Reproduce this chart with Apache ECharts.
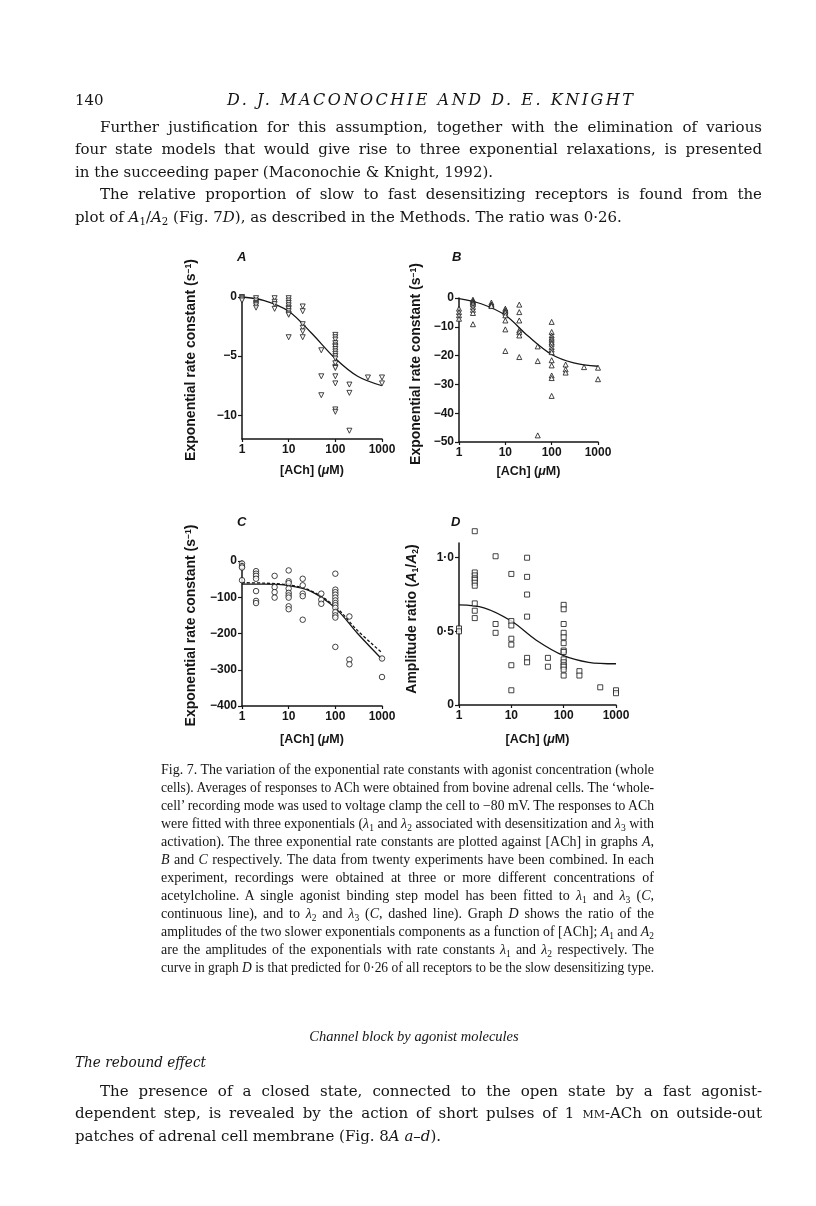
<!DOCTYPE html>
<html>
<head>
    <meta charset="utf-8">
    <title>Fig. 7 - Maconochie &amp; Knight</title>
    <script src="https://cdn.jsdelivr.net/npm/echarts@6.0.0/dist/echarts.min.js"></script>
    <style>
        body { margin: 0; background: #fff; }
        #page { position: relative; width: 816px; height: 1206px; overflow: hidden; background: #fff; }
        #chart { position: absolute; left: 0; top: 0; width: 816px; height: 1206px; }
        .ln { position: absolute; white-space: nowrap; color: #151515; }
        .ln .t { display: inline-block; transform-origin: 0 50%; }
        .body { font-family: 'DejaVu Serif', 'Liberation Serif', serif; font-size: 15px; line-height: 20px; }
        .cap { font-family: 'Liberation Serif', 'DejaVu Serif', serif; font-size: 14px; line-height: 18px; }
        .head { font-family: 'Liberation Serif', 'DejaVu Serif', serif; font-size: 14.5px; line-height: 20px; text-align: center; }
        sub { font-size: 0.68em; vertical-align: -0.3em; line-height: 0; }
        .sc { font-variant: small-caps; }
    </style>
</head>
<body>
<div id="page">
    <div id="chart"></div>

    <!-- running head -->
    <div class="ln body" style="left:75px;top:90px" data-w="30"><span class="t">140</span></div>
    <div class="ln body" style="left:227px;top:90px;font-size:16px" data-w="406" data-m="s"><span class="t"><i>D. J. MACONOCHIE AND D. E. KNIGHT</i></span></div>

    <!-- text above the figure -->
    <div class="ln body" style="left:100px;top:117px" data-w="662" data-m="j"><span class="t">Further justification for this assumption, together with the elimination of various</span></div>
    <div class="ln body" style="left:75px;top:139px" data-w="687" data-m="j"><span class="t">four state models that would give rise to three exponential relaxations, is presented</span></div>
    <div class="ln body" style="left:75px;top:162px" data-w="687"><span class="t">in the succeeding paper (Maconochie &amp; Knight, 1992).</span></div>
    <div class="ln body" style="left:100px;top:184px" data-w="662" data-m="j"><span class="t">The relative proportion of slow to fast desensitizing receptors is found from the</span></div>
    <div class="ln body" style="left:75px;top:207px" data-w="687"><span class="t">plot of <i>A</i><sub>1</sub>/<i>A</i><sub>2</sub> (Fig. 7<i>D</i>), as described in the Methods. The ratio was 0·26.</span></div>

    <!-- caption -->
    <div class="ln cap" style="left:161px;top:761px" data-w="493" data-m="j"><span class="t">Fig. 7. The variation of the exponential rate constants with agonist concentration (whole</span></div>
    <div class="ln cap" style="left:161px;top:779px" data-w="493" data-m="j"><span class="t">cells). Averages of responses to ACh were obtained from bovine adrenal cells. The ‘whole-</span></div>
    <div class="ln cap" style="left:161px;top:797px" data-w="493" data-m="j"><span class="t">cell’ recording mode was used to voltage clamp the cell to −80 mV. The responses to ACh</span></div>
    <div class="ln cap" style="left:161px;top:815px" data-w="493" data-m="j"><span class="t">were fitted with three exponentials (<i>λ</i><sub>1</sub> and <i>λ</i><sub>2</sub> associated with desensitization and <i>λ</i><sub>3</sub> with</span></div>
    <div class="ln cap" style="left:161px;top:833px" data-w="493" data-m="j"><span class="t">activation). The three exponential rate constants are plotted against [ACh] in graphs <i>A</i>,</span></div>
    <div class="ln cap" style="left:161px;top:851px" data-w="493" data-m="j"><span class="t"><i>B</i> and <i>C</i> respectively. The data from twenty experiments have been combined. In each</span></div>
    <div class="ln cap" style="left:161px;top:869px" data-w="493" data-m="j"><span class="t">experiment, recordings were obtained at three or more different concentrations of</span></div>
    <div class="ln cap" style="left:161px;top:887px" data-w="493" data-m="j"><span class="t">acetylcholine. A single agonist binding step model has been fitted to <i>λ</i><sub>1</sub> and <i>λ</i><sub>3</sub> (<i>C</i>,</span></div>
    <div class="ln cap" style="left:161px;top:905px" data-w="493" data-m="j"><span class="t">continuous line), and to <i>λ</i><sub>2</sub> and <i>λ</i><sub>3</sub> (<i>C</i>, dashed line). Graph <i>D</i> shows the ratio of the</span></div>
    <div class="ln cap" style="left:161px;top:923px" data-w="493" data-m="j"><span class="t">amplitudes of the two slower exponentials components as a function of [ACh]; <i>A</i><sub>1</sub> and <i>A</i><sub>2</sub></span></div>
    <div class="ln cap" style="left:161px;top:941px" data-w="493" data-m="j"><span class="t">are the amplitudes of the exponentials with rate constants <i>λ</i><sub>1</sub> and <i>λ</i><sub>2</sub> respectively. The</span></div>
    <div class="ln cap" style="left:161px;top:959px" data-w="493" data-m="j"><span class="t">curve in graph <i>D</i> is that predicted for 0·26 of all receptors to be the slow desensitizing type.</span></div>

    <!-- following section -->
    <div class="ln head" style="left:264px;top:1026px;width:300px" data-w="300"><span class="t"><i>Channel block by agonist molecules</i></span></div>
    <div class="ln body" style="left:75px;top:1052px" data-w="131"><span class="t"><i>The rebound effect</i></span></div>
    <div class="ln body" style="left:100px;top:1081px" data-w="662" data-m="j"><span class="t">The presence of a closed state, connected to the open state by a fast agonist-</span></div>
    <div class="ln body" style="left:75px;top:1103px" data-w="687" data-m="j"><span class="t">dependent step, is revealed by the action of short pulses of 1 <span class="sc">mm</span>-ACh on outside-out</span></div>
    <div class="ln body" style="left:75px;top:1126px" data-w="687"><span class="t">patches of adrenal cell membrane (Fig. 8<i>A a–d</i>).</span></div>
</div>

<script>
    // ---- data ----
    // A: lambda1 (s-1)
    var concA = [1, 2, 5, 10, 20, 50, 100, 200, 500, 1000];
    var rateA = [
        [0, -0.1, -0.2, -0.3],
        [-0.1, -0.3, -0.5, -0.6, -0.7, -0.9],
        [-0.1, -0.4, -0.6, -1.0],
        [-0.1, -0.3, -0.5, -0.7, -0.9, -1.0, -1.2, -1.4, -1.5, -3.4],
        [-0.8, -1.2, -2.3, -2.6, -2.9, -3.4],
        [-4.5, -6.7, -8.3],
        [-3.2, -3.4, -3.6, -3.9, -4.1, -4.2, -4.4, -4.6, -4.8, -5.0, -5.2, -5.6, -5.9, -6.0, -6.7, -7.3, -9.5, -9.7],
        [-7.4, -8.1, -11.3],
        [-6.8],
        [-6.8, -7.3]
    ];
    // B: lambda2 (s-1)
    var concB = [1, 2, 5, 10, 20, 50, 100, 200, 500, 1000];
    var rateB = [
        [-3.7, -4.9, -6.0, -7.2],
        [-0.6, -1.0, -1.4, -1.7, -2.2, -3.1, -4.1, -5.2, -9.1],
        [-1.6, -2.2, -2.5, -2.8],
        [-3.7, -4.2, -4.6, -5.1, -6.0, -7.8, -10.9, -18.4],
        [-2.3, -4.9, -7.8, -11.2, -11.9, -13.0, -20.5],
        [-16.8, -21.9, -47.7],
        [-8.3, -11.8, -13.0, -13.8, -14.5, -15.3, -15.9, -17.0, -17.9, -18.8, -21.6, -23.4, -26.9, -27.8, -34.0],
        [-23.1, -24.8, -25.9],
        [-24.0],
        [-24.2, -28.2]
    ];
    // C: lambda3 (s-1)
    var concC = [1, 2, 5, 10, 20, 50, 100, 200, 1000];
    var rateC = [
        [-7, -14, -18, -53],
        [-28, -35, -41, -49, -83, -110, -116],
        [-41, -72, -86, -101],
        [-26, -56, -61, -76, -88, -95, -101, -125, -133],
        [-49, -67, -90, -97, -162],
        [-90, -107, -118],
        [-35, -79, -86, -93, -101, -109, -116, -122, -129, -141, -150, -156, -237],
        [-153, -272, -285],
        [-269, -320]
    ];
    // D: amplitude ratio A1/A2
    var concD = [1, 2, 5, 10, 20, 50, 100, 200, 500, 1000];
    var ratioD = [
        [0.52, 0.50],
        [1.18, 0.90, 0.88, 0.86, 0.85, 0.83, 0.81, 0.69, 0.64, 0.59],
        [1.01, 0.55, 0.49],
        [0.89, 0.57, 0.54, 0.45, 0.41, 0.27, 0.10],
        [1.0, 0.87, 0.75, 0.60, 0.32, 0.29],
        [0.32, 0.26],
        [0.68, 0.65, 0.55, 0.49, 0.46, 0.42, 0.37, 0.36, 0.31, 0.29, 0.27, 0.26, 0.24, 0.20],
        [0.23, 0.20],
        [0.12],
        [0.10, 0.08]
    ];
    var fitConc = [1, 3, 10, 30, 100, 300, 1000];
    var fitA = [0, -0.3, -1.2, -3.0, -5.2, -6.7, -7.5];
    var fitB = [-0.2, -2.0, -6.0, -13.0, -19.6, -22.5, -23.7];
    var fitCsolid = [-64, -64, -68, -84, -130, -200, -271];
    var fitCdash = [-60, -61, -66, -82, -126, -192, -253];
    var fitD = [0.68, 0.66, 0.57, 0.44, 0.335, 0.29, 0.28];

    var ticksA = [-10, -5, 0];
    var ticksB = [-50, -40, -30, -20, -10, 0];
    var ticksC = [-400, -300, -200, -100, 0];
    var ticksD = [0, 0.5, 1.0];

    // ---- helpers ----
    var sans = '"Liberation Sans", Arial, sans-serif';
    var ink = '#151515';

    function pts(conc, groups) {
        var out = [];
        conc.forEach(function (c, i) {
            groups[i].forEach(function (v) { out.push([c, v]); });
        });
        return out;
    }
    function pairs(xs, ys) {
        return xs.map(function (x, i) { return [x, ys[i]]; });
    }
    function minus(v) {
        return v < 0 ? '\u2212' + Math.abs(v) : String(v);
    }
    function rich(size) {
        return {
            n: { fontSize: size, fontWeight: 'bold', fontFamily: sans, color: ink },
            i: { fontSize: size, fontWeight: 'bold', fontStyle: 'italic', fontFamily: sans, color: ink },
            sup: { fontSize: 8.5, fontWeight: 'bold', fontFamily: sans, color: ink, verticalAlign: 'top', padding: [0, 0, 6, 0] },
            sub: { fontSize: 8.5, fontWeight: 'bold', fontFamily: sans, color: ink, verticalAlign: 'bottom', padding: [6, 0, 0, 0] }
        };
    }

    function xAxis(grid, gap) {
        return {
            type: 'log', logBase: 10, gridIndex: grid, min: 1, max: 1000,
            name: '{n|[ACh] (}{i|\u03bc}{n|M)}', nameLocation: 'middle', nameGap: gap,
            nameTextStyle: { rich: rich(12.5) },
            axisLine: { onZero: false, lineStyle: { color: ink, width: 1.5 } },
            axisTick: { length: 3, lineStyle: { color: ink, width: 1.2 } },
            minorTick: { show: false },
            axisLabel: {
                formatter: function (v) { return String(Math.round(v)); },
                fontSize: 12, fontWeight: 'bold', fontFamily: sans, color: ink, margin: 5
            },
            splitLine: { show: false }
        };
    }
    function yAxis(grid, min, max, ticks, fmt, name, gap, lift) {
        return {
            type: 'value', gridIndex: grid, min: min, max: max,
            name: name, nameLocation: 'middle', nameGap: gap, nameRotate: 90,
            nameTextStyle: { rich: rich(14), padding: [0, 0, 0, lift] },
            axisLine: { show: true, onZero: false, lineStyle: { color: ink, width: 1.5 } },
            axisTick: { show: true, length: 4, customValues: ticks, lineStyle: { color: ink, width: 1.2 } },
            axisLabel: {
                customValues: ticks, formatter: fmt,
                fontSize: 12, fontWeight: 'bold', fontFamily: sans, color: ink, margin: 5
            },
            splitLine: { show: false }
        };
    }
    function scatter(idx, data, symbol, size, rotate) {
        return {
            type: 'scatter', xAxisIndex: idx, yAxisIndex: idx, data: data,
            symbol: symbol, symbolSize: size, symbolRotate: rotate || 0, clip: false,
            itemStyle: { color: '#fff', borderColor: ink, borderWidth: 1 }, z: 3
        };
    }
    function curve(idx, data, dashed) {
        return {
            type: 'line', xAxisIndex: idx, yAxisIndex: idx, data: data,
            smooth: 0.35, symbol: 'none', clip: false,
            lineStyle: { color: ink, width: 1.3, type: dashed ? [3, 2] : 'solid' }, z: 2
        };
    }
    function letter(x, y, t) {
        return {
            type: 'text', left: x, top: y,
            style: { text: t, font: 'italic bold 13px ' + sans, fill: ink }
        };
    }

    var rateName = '{n|Exponential rate constant (s}{sup|\u22121}{n|)}';
    var ratioName = '{n|Amplitude ratio (}{i|A}{sub|1}{n|/}{i|A}{sub|2}{n|)}';

    var myChart = echarts.init(document.getElementById('chart'));
    myChart.setOption({
        animation: false,
        backgroundColor: 'transparent',
        grid: [
            { left: 242, top: 297, width: 140, height: 142 },
            { left: 459, top: 298, width: 139, height: 144 },
            { left: 242, top: 561, width: 140, height: 145 },
            { left: 459, top: 543, width: 157, height: 162 }
        ],
        xAxis: [xAxis(0, 25), xAxis(1, 23), xAxis(2, 27), xAxis(3, 28)],
        yAxis: [
            yAxis(0, -12, 0, ticksA, minus, rateName, 43, 16),
            yAxis(1, -50, 0, ticksB, minus, rateName, 35, 12),
            yAxis(2, -400, 0, ticksC, minus, rateName, 43, 16),
            yAxis(3, 0, 1.1, ticksD, function (v) {
                return v === 0 ? '0' : v.toFixed(1).replace('.', '\u00b7');
            }, ratioName, 39, 10)
        ],
        graphic: [
            letter(237, 251, 'A'),
            letter(452, 251, 'B'),
            letter(237, 516, 'C'),
            letter(451, 516, 'D')
        ],
        series: [
            scatter(0, pts(concA, rateA), 'triangle', 5, 180),
            curve(0, pairs(fitConc, fitA)),
            scatter(1, pts(concB, rateB), 'triangle', 5),
            curve(1, pairs(fitConc, fitB)),
            scatter(2, pts(concC, rateC), 'circle', 5.5),
            curve(2, pairs(fitConc, fitCsolid)),
            curve(2, pairs(fitConc, fitCdash), true),
            scatter(3, pts(concD, ratioD), 'rect', 5),
            curve(3, pairs(fitConc, fitD))
        ]
    });

    // 把每一行文字撑满/压缩到原版的行宽
    document.querySelectorAll('.ln').forEach(function (el) {
        var s = el.firstElementChild;
        var w = +el.dataset.w;
        var nat = s.getBoundingClientRect().width;
        if (nat > w) {
            s.style.transform = 'scaleX(' + (w / nat) + ')';
        } else if (el.dataset.m === 'j') {
            var n = (s.textContent.match(/ /g) || []).length;
            if (n) s.style.wordSpacing = ((w - nat) / n) + 'px';
        } else if (el.dataset.m === 's') {
            var k = s.textContent.length - 1;
            if (k > 0) s.style.letterSpacing = ((w - nat) / k) + 'px';
        }
    });
</script>
</body>
</html>
